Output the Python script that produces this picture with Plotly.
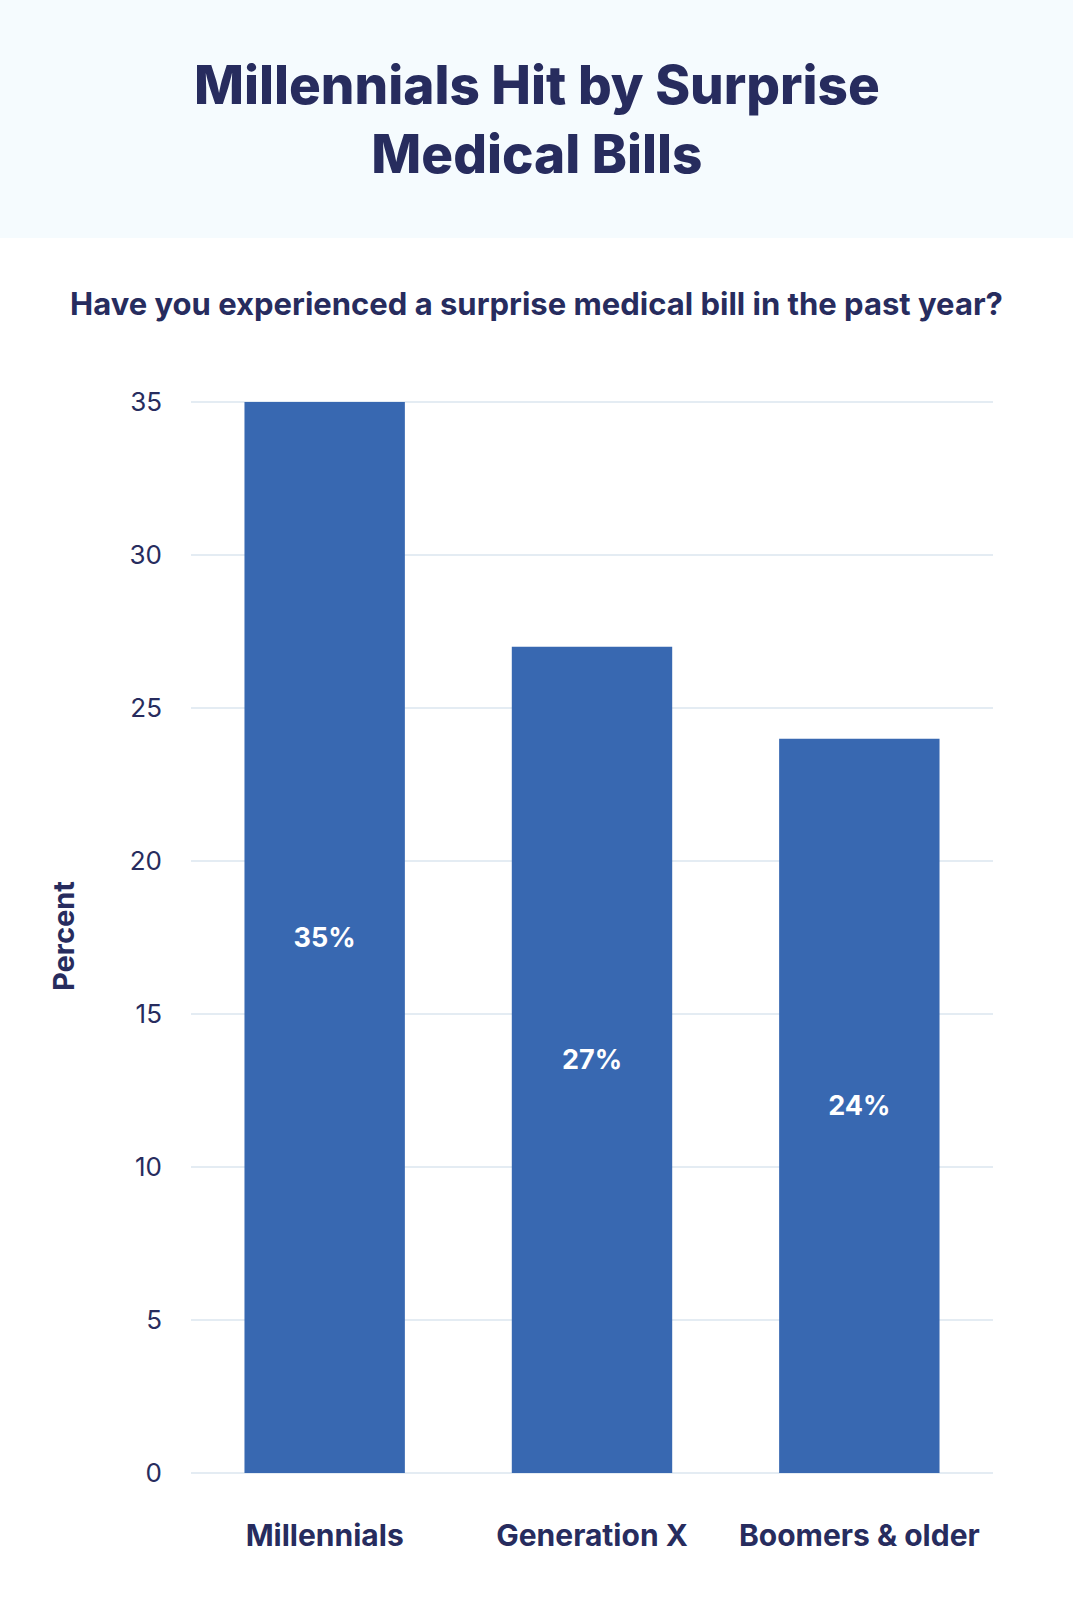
import plotly.graph_objects as go

W, H = 1073, 1600

categories = ["Millennials", "Generation X", "Boomers & older"]
percent = [35, 27, 24]
bar_labels = ["35%", "27%", "24%"]
y_ticks = [0, 5, 10, 15, 20, 25, 30, 35]

NAVY = "#272c5e"
BAR = "#3868b1"
GRID = "#e4ecf3"
HEADER_BG = "#f5fbfe"
FONT = "Inter"

# plot area in pixels (a tiny headroom above 35 so its gridline is drawn)
Y_MAX = 35.1
L, R, T, B = 191, 80, 399, 127
plot_h = H - T - B


def py(pix):
    # pixel row -> paper y
    return (H - B - pix) / plot_h


fig = go.Figure(go.Bar(
    x=categories,
    y=percent,
    text=bar_labels,
    textposition="inside",
    insidetextanchor="middle",
    textfont=dict(family=FONT, size=27, color="white", weight="bold"),
    marker=dict(color=BAR, line=dict(width=0)),
    hoverinfo="x+y",
))

fig.update_layout(
    width=W, height=H,
    margin=dict(l=L, r=R, t=T, b=B),
    paper_bgcolor="white",
    plot_bgcolor="white",
    bargap=0.4,
    showlegend=False,
    font=dict(family=FONT, color=NAVY),
    shapes=[dict(type="rect", xref="paper", yref="paper",
                 x0=-L / (W - L - R), x1=1 + R / (W - L - R),
                 y0=py(238), y1=py(0),
                 fillcolor=HEADER_BG, line=dict(width=0), layer="below")],
    annotations=[
        dict(text="Millennials Hit by Surprise<br>Medical Bills",
             xref="paper", yref="paper",
             x=(W / 2 - L) / (W - L - R), y=py(120),
             xanchor="center", yanchor="middle", showarrow=False,
             font=dict(family=FONT, size=53, color=NAVY, weight=800)),
        dict(text="Have you experienced a surprise medical bill in the past year?",
             xref="paper", yref="paper",
             x=(W / 2 - L) / (W - L - R), y=py(303),
             xanchor="center", yanchor="middle", showarrow=False,
             font=dict(family=FONT, size=31, color=NAVY, weight="bold")),
    ],
)

fig.update_xaxes(
    showgrid=False, zeroline=False, showline=False, ticks="",
    tickfont=dict(family=FONT, size=30, color=NAVY, weight="bold"),
    ticklabelstandoff=42,
)
fig.update_yaxes(
    range=[0, Y_MAX], tickvals=y_ticks,
    showgrid=True, gridcolor=GRID, gridwidth=1.5,
    zeroline=True, zerolinecolor=GRID, zerolinewidth=2,
    showline=False, ticks="",
    tickfont=dict(family=FONT, size=26, color=NAVY),
    ticklabelstandoff=28,
    title=dict(text="Percent", standoff=46,
               font=dict(family=FONT, size=29, color=NAVY, weight="bold")),
)

# drop the page's default body margin so the figure sits at the top-left corner
fig.write_html("out.html", config={"displayModeBar": False},
               post_script="document.body.style.margin = '0';")
